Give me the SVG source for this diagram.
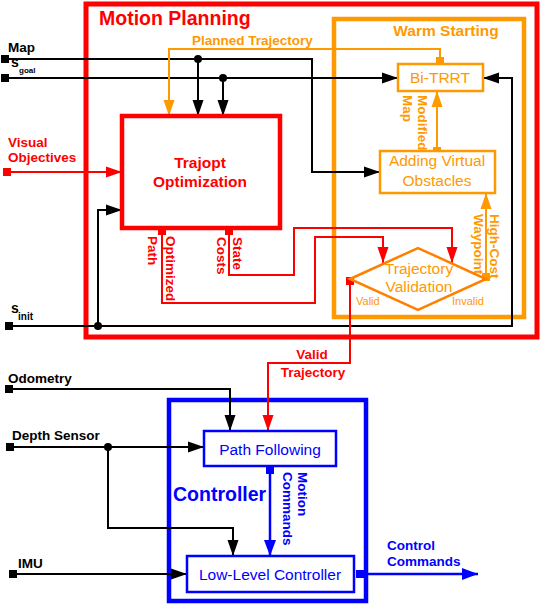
<svg xmlns="http://www.w3.org/2000/svg" width="540" height="604" viewBox="0 0 540 604">
<style>
text{font-family:"Liberation Sans",Arial,sans-serif}
.b{font-weight:bold;font-size:13.5px}
.n{font-size:15.5px}
.k{fill:#000}.r{fill:#ff0000}.o{fill:#ff9900}.u{fill:#0000ff}
.lk{fill:none;stroke:#000;stroke-width:2}
.lr{fill:none;stroke:#ff0000;stroke-width:2}
.lo{fill:none;stroke:#ff9900;stroke-width:2}
.lu{fill:none;stroke:#0000ff;stroke-width:2.5}
</style>
<defs>
<marker id="ak" markerUnits="userSpaceOnUse" markerWidth="17" markerHeight="12" refX="16" refY="6" orient="auto"><path d="M0,0.5L16,6L0,11.5z" fill="#000"/></marker>
<marker id="ar" markerUnits="userSpaceOnUse" markerWidth="17" markerHeight="12" refX="16" refY="6" orient="auto"><path d="M0,0.5L16,6L0,11.5z" fill="#ff0000"/></marker>
<marker id="ao" markerUnits="userSpaceOnUse" markerWidth="17" markerHeight="12" refX="16" refY="6" orient="auto"><path d="M0,0.5L16,6L0,11.5z" fill="#ff9900"/></marker>
<marker id="au" markerUnits="userSpaceOnUse" markerWidth="17" markerHeight="13" refX="16" refY="6.5" orient="auto"><path d="M0,0.5L16,6.5L0,12.5z" fill="#0000ff"/></marker>
<marker id="sk" markerUnits="userSpaceOnUse" markerWidth="9" markerHeight="9" refX="4" refY="4"><rect width="8" height="8" fill="#000"/></marker>
<marker id="sr" markerUnits="userSpaceOnUse" markerWidth="9" markerHeight="9" refX="4" refY="4"><rect width="8" height="8" fill="#ff0000"/></marker>
<marker id="so" markerUnits="userSpaceOnUse" markerWidth="9" markerHeight="9" refX="4" refY="4"><rect width="8" height="8" fill="#ff9900"/></marker>
<marker id="su" markerUnits="userSpaceOnUse" markerWidth="9" markerHeight="9" refX="4" refY="4"><rect width="8" height="8" fill="#0000ff"/></marker>
</defs>
<rect width="540" height="604" fill="#fff"/>

<g id="motion-planning">
<rect x="86" y="4" width="451" height="333" fill="none" stroke="#ff0000" stroke-width="5"/>
<text x="99" y="25" class="r" font-weight="bold" font-size="19.5">Motion Planning</text>
</g>
<g id="warm-starting">
<rect x="334" y="19" width="190" height="298" fill="none" stroke="#ff9900" stroke-width="4.5"/>
<text x="446" y="36" class="o" font-weight="bold" font-size="15.5" text-anchor="middle">Warm Starting</text>
</g>
<g id="controller">
<rect x="169" y="400" width="197" height="201" fill="none" stroke="#0000ff" stroke-width="4.5"/>
<text x="173" y="501" class="u" font-weight="bold" font-size="19.5">Controller</text>
</g>

<g id="connectors">
<path class="lk" d="M5,59H312V172H380" marker-start="url(#sk)" marker-end="url(#ak)"/>
<path class="lk" d="M198,59V116" marker-end="url(#ak)"/>
<path class="lk" d="M5,78H398" marker-start="url(#sk)" marker-end="url(#ak)"/>
<path class="lk" d="M223,78V116" marker-end="url(#ak)"/>
<path class="lk" d="M9,326H512V78H483" marker-start="url(#sk)" marker-end="url(#ak)"/>
<path class="lk" d="M98,326V210H122" marker-end="url(#ak)"/>
<path class="lk" d="M9,389H230V431" marker-start="url(#sk)" marker-end="url(#ak)"/>
<path class="lk" d="M10,447H204" marker-start="url(#sk)" marker-end="url(#ak)"/>
<path class="lk" d="M108,447V528H233V556" marker-end="url(#ak)"/>
<path class="lk" d="M13,574H187" marker-start="url(#sk)" marker-end="url(#ak)"/>
<circle cx="198" cy="59" r="4"/>
<circle cx="223" cy="78" r="4"/>
<circle cx="98" cy="326" r="4"/>
<circle cx="108" cy="447" r="4"/>
<path class="lr" d="M7,172H122" marker-start="url(#sr)" marker-end="url(#ar)"/>
<path class="lr" d="M162,231V303H315V237H383V263" marker-start="url(#sr)" marker-end="url(#ar)"/>
<path class="lr" d="M229,231V275H294V228H452V263" marker-start="url(#sr)" marker-end="url(#ar)"/>
<path class="lr" d="M350,281V363H268V431" marker-start="url(#sr)" marker-end="url(#ar)"/>
<path class="lo" d="M440,61V49H169V116" marker-start="url(#so)" marker-end="url(#ao)"/>
<path class="lo" d="M437,151V91" marker-start="url(#so)" marker-end="url(#ao)"/>
<path class="lo" d="M486,277V193" marker-start="url(#so)" marker-end="url(#ao)"/>
<path class="lu" d="M270,470V556" marker-start="url(#su)" marker-end="url(#au)"/>
<path class="lu" d="M360,574H478" marker-start="url(#su)" marker-end="url(#au)"/>
</g>

<g id="inputs">
<text x="8" y="52" class="b k">Map</text>
<text x="11" y="67" class="k" font-weight="bold" font-size="14">s</text>
<text x="19" y="73" class="k" font-weight="bold" font-size="8">goal</text>
<text x="8" y="147" class="b r">Visual</text>
<text x="8" y="162" class="b r">Objectives</text>
<text x="11" y="313" class="k" font-weight="bold" font-size="14">s</text>
<text x="18" y="320" class="k" font-weight="bold" font-size="10">init</text>
<text x="8" y="383" class="b k">Odometry</text>
<text x="12" y="440" class="b k">Depth Sensor</text>
<text x="18" y="568" class="b k">IMU</text>
</g>

<g id="labels">
<text x="192" y="45" class="b o">Planned Trajectory</text>
<text transform="translate(418,95) rotate(90)" class="b o">Modified</text>
<text transform="translate(403,95) rotate(90)" class="b o">Map</text>
<text transform="translate(490,214) rotate(90)" class="b o">High-Cost</text>
<text transform="translate(474,214) rotate(90)" class="b o">Waypoint</text>
<text transform="translate(166,236) rotate(90)" class="b r">Optimized</text>
<text transform="translate(148,236) rotate(90)" class="b r">Path</text>
<text transform="translate(233,237) rotate(90)" class="b r">State</text>
<text transform="translate(217,237) rotate(90)" class="b r">Costs</text>
<text x="356" y="305" class="o" font-size="11">Valid</text>
<text x="452" y="305" class="o" font-size="11">Invalid</text>
<text x="312" y="359" class="b r" text-anchor="middle">Valid</text>
<text x="313" y="377" class="b r" text-anchor="middle">Trajectory</text>
<text transform="translate(298,472) rotate(90)" class="b u">Motion</text>
<text transform="translate(283,472) rotate(90)" class="b u">Commands</text>
<text x="387" y="550" class="b u">Control</text>
<text x="387" y="566" class="b u">Commands</text>
</g>

<g id="trajopt">
<rect x="122" y="116" width="158" height="112" fill="none" stroke="#ff0000" stroke-width="4.5"/>
<text x="200" y="168" class="r" font-weight="bold" font-size="15.5" text-anchor="middle">Trajopt</text>
<text x="200" y="187" class="r" font-weight="bold" font-size="15.5" text-anchor="middle">Optimization</text>
</g>
<g id="bi-trrt">
<rect x="398" y="64" width="85" height="27" fill="#fff" stroke="#ff9900" stroke-width="2.5"/>
<text x="440" y="83" class="n o" text-anchor="middle">Bi-TRRT</text>
</g>
<g id="adding-virtual-obstacles">
<rect x="380" y="151" width="115" height="42" fill="#fff" stroke="#ff9900" stroke-width="2.5"/>
<text x="437" y="166" class="n o" text-anchor="middle">Adding Virtual</text>
<text x="437" y="186" class="n o" text-anchor="middle">Obstacles</text>
</g>
<g id="trajectory-validation">
<polygon points="350,279 418,248 486,279 418,310" fill="none" stroke="#ff8000" stroke-width="2.5"/>
<text x="419" y="274" class="n o" text-anchor="middle">Trajectory</text>
<text x="419" y="292" class="n o" text-anchor="middle">Validation</text>
</g>
<g id="path-following">
<rect x="204" y="431" width="132" height="35" fill="#fff" stroke="#0000ff" stroke-width="2.5"/>
<text x="270" y="455" class="n u" text-anchor="middle">Path Following</text>
</g>
<g id="low-level-controller">
<rect x="187" y="556" width="167" height="36" fill="#fff" stroke="#0000ff" stroke-width="2.5"/>
<text x="270" y="580" class="n u" text-anchor="middle">Low-Level Controller</text>
</g>
</svg>
